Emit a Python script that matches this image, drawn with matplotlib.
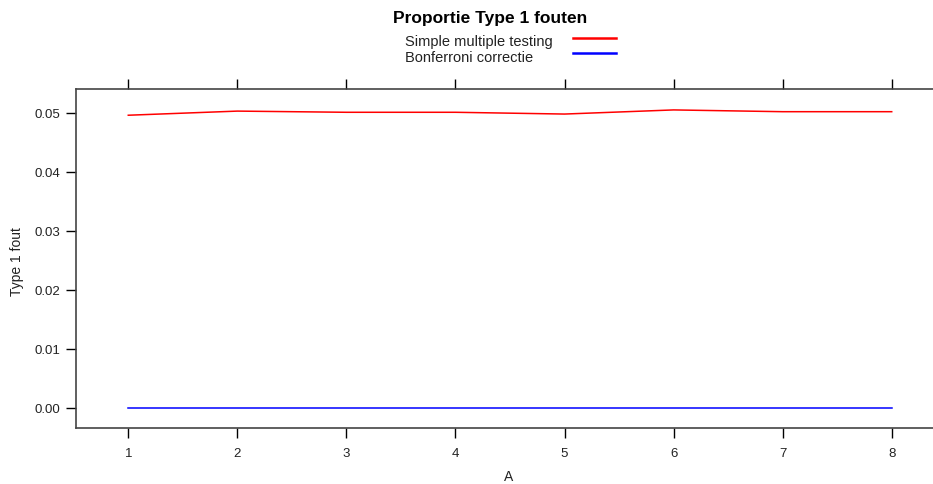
import matplotlib.pyplot as plt
from matplotlib.lines import Line2D

plt.rcParams['font.family'] = ['Liberation Sans', 'DejaVu Sans']

A = [1, 2, 3, 4, 5, 6, 7, 8]
simple = [0.0496, 0.0503, 0.0501, 0.0501, 0.0498, 0.0505, 0.0502, 0.0502]
bonferroni = [0, 0, 0, 0, 0, 0, 0, 0]
series_names = ["Simple multiple testing", "Bonferroni correctie"]
yticks = [0.00, 0.01, 0.02, 0.03, 0.04, 0.05]

W, H = 933, 485
fig = plt.figure(figsize=(W / 100, H / 100), dpi=100)
# panel runs a little past the right edge, like the cropped original
ax = fig.add_axes([75.5 / W, 1 - 428.7 / H, (944.5 - 75.5) / W, (428.7 - 89.7) / H])

ax.plot(A, simple, color='#FF0000', lw=1.1)
ax.plot(A, bonferroni, color='#0000FF', lw=1.1)

ax.set_xlim(0.516, 8.484)
ax.set_ylim(-0.0034, 0.0541)
ax.set_xticks(A)
ax.set_yticks(yticks)
ax.set_yticklabels([f"{v:.2f}" for v in yticks])
ax.tick_params(direction='out', length=7, width=1, labelsize=9.5, pad=4,
               top=True, right=True, color='black', labelcolor='#222222')
ax.tick_params(axis='x', pad=7)
for s in ax.spines.values():
    s.set_color('#444444')
    s.set_linewidth(1.2)

fig.text(509 / W, 1 - 477 / H, "A", ha='center', va='center', fontsize=10, color='#222222')
fig.text(17.5 / W, 1 - 262 / H, "Type 1 fout", ha='center', va='center', rotation=90,
         fontsize=10, color='#222222')

fig.text(490 / W, 1 - 23 / H, "Proportie Type 1 fouten", ha='center', va='baseline',
         fontsize=12.5, fontweight='bold')
for i, (name, col) in enumerate(zip(series_names, ['#FF0000', '#0000FF'])):
    base = 46 + 15.5 * i
    fig.text(405 / W, 1 - base / H, name, ha='left', va='baseline', fontsize=10.5,
             color='#222222')
    fig.add_artist(Line2D([573 / W, 616 / W], [1 - (base - 7.5) / H] * 2,
                          color=col, lw=1.8, transform=fig.transFigure))

fig.savefig("out.png", dpi=100)
